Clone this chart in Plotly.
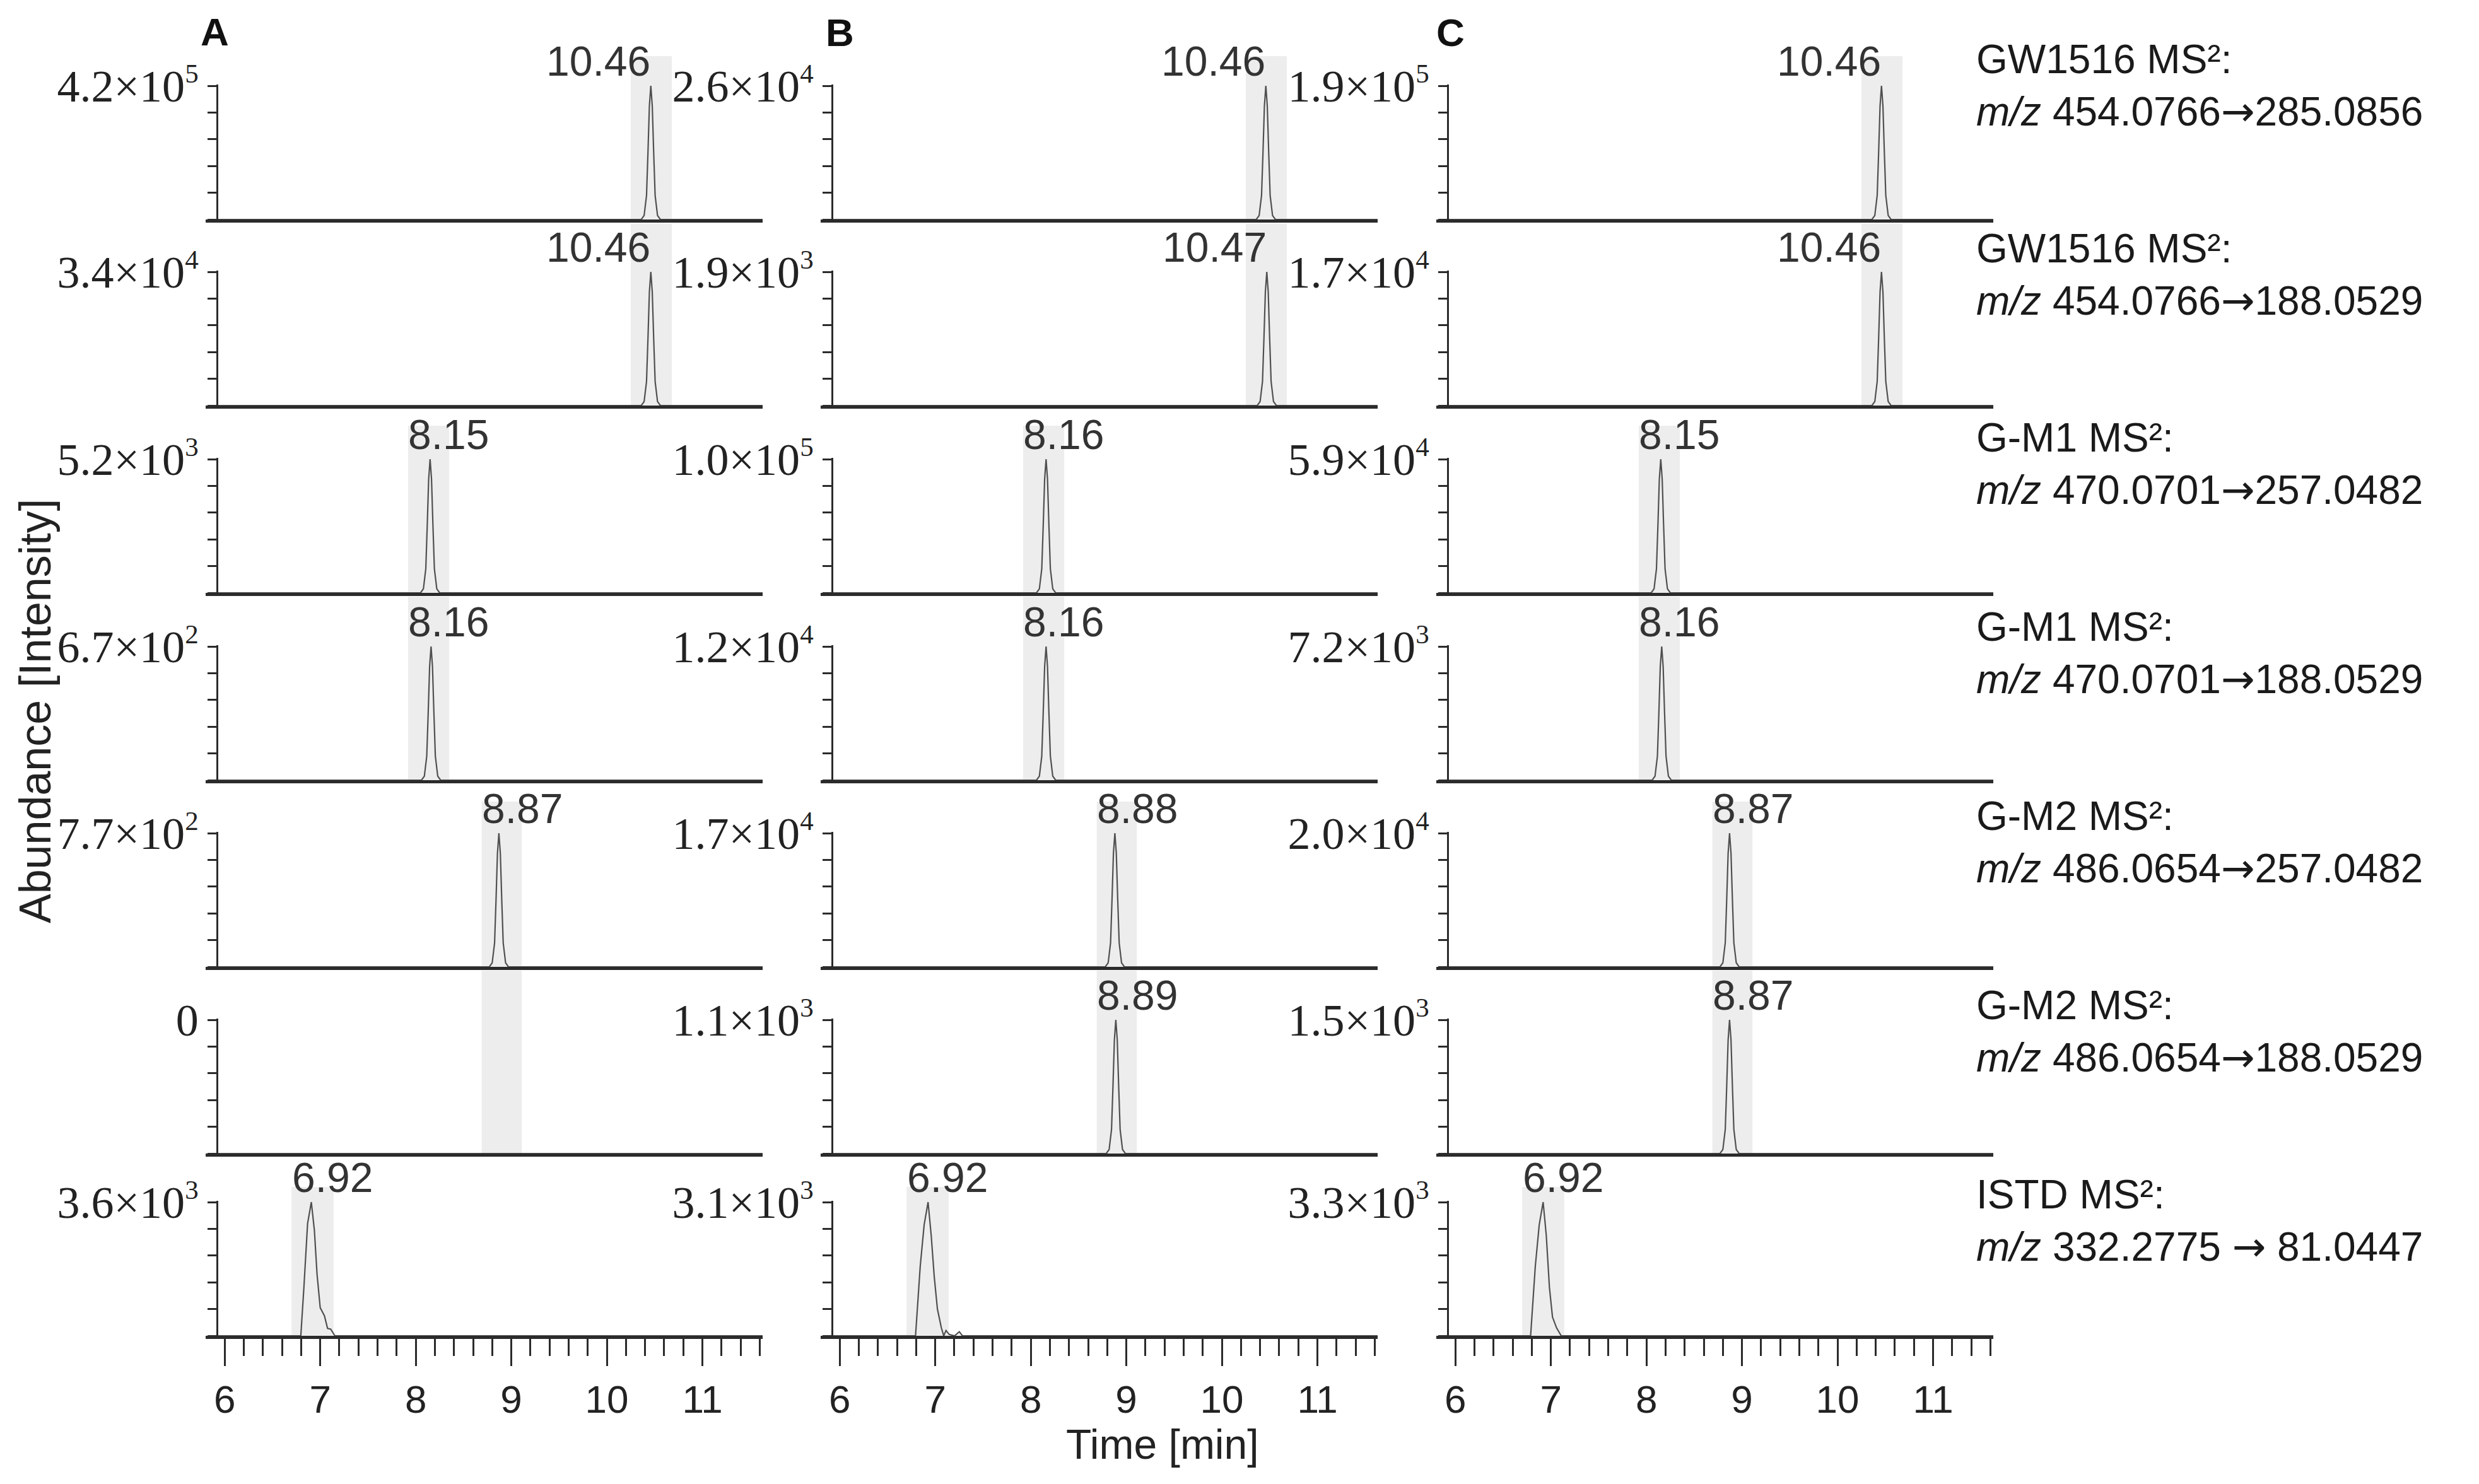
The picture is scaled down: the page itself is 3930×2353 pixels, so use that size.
import plotly.graph_objects as go

W, H = 3930, 2353

# ---------------- data ----------------
col_letters = ["A", "B", "C"]

row_names = ["GW1516 MS²:", "GW1516 MS²:", "G-M1 MS²:", "G-M1 MS²:",
             "G-M2 MS²:", "G-M2 MS²:", "ISTD MS²:"]
row_precursor = ["454.0766", "454.0766", "470.0701", "470.0701",
                 "486.0654", "486.0654", "332.2775 "]
row_product = ["285.0856", "188.0529", "257.0482", "188.0529",
               "257.0482", "188.0529", " 81.0447"]

# retention time labels (None = no peak)
peak_rt = [
    [10.46, 10.46, 10.46],
    [10.46, 10.47, 10.46],
    [8.15, 8.16, 8.15],
    [8.16, 8.16, 8.16],
    [8.87, 8.88, 8.87],
    [None, 8.89, 8.87],
    [6.92, 6.92, 6.92],
]

# full-scale intensity = mantissa x 10^exp
ymax_mant = [
    [4.2, 2.6, 1.9],
    [3.4, 1.9, 1.7],
    [5.2, 1.0, 5.9],
    [6.7, 1.2, 7.2],
    [7.7, 1.7, 2.0],
    [0.0, 1.1, 1.5],
    [3.6, 3.1, 3.3],
]
ymax_exp = [
    [5, 4, 5],
    [4, 3, 4],
    [3, 5, 4],
    [2, 4, 3],
    [2, 4, 4],
    [0, 3, 3],
    [3, 3, 3],
]

# grey integration windows (min)
band_start = [10.25, 10.25, 7.92, 7.92, 8.69, 8.69, 6.70]
band_end = [10.68, 10.68, 8.35, 8.35, 9.11, 9.11, 7.14]

# sharp MS2 peak profile (offset from apex in min, relative intensity)
sharp_dt = [-0.10, -0.07, -0.045, -0.03, -0.015, 0.0, 0.015, 0.03, 0.045, 0.07, 0.10]
sharp_rel = [0.0, 0.03, 0.18, 0.50, 0.85, 1.0, 0.85, 0.50, 0.18, 0.03, 0.0]

# ISTD traces (min, relative intensity), one per column
istd_t_A = [6.797, 6.830, 6.868, 6.907, 6.939, 6.967, 7.000, 7.044, 7.077, 7.110, 7.154]
istd_rel_A = [0.0, 0.37, 0.84, 1.0, 0.79, 0.46, 0.21, 0.15, 0.055, 0.05, 0.0]
istd_t_B = [6.794, 6.843, 6.884, 6.925, 6.958, 6.990, 7.023, 7.064, 7.089, 7.113, 7.146, 7.203, 7.252, 7.285]
istd_rel_B = [0.0, 0.52, 0.83, 1.0, 0.75, 0.44, 0.20, 0.06, 0.0, 0.04, 0.01, 0.0, 0.03, 0.0]
istd_t_C = [6.788, 6.837, 6.878, 6.919, 6.952, 6.985, 7.017, 7.059, 7.108]
istd_rel_C = [0.0, 0.52, 0.83, 1.0, 0.75, 0.36, 0.14, 0.06, 0.0]

x_ticks = [6, 7, 8, 9, 10, 11]

# ---------------- layout geometry (pixels) ----------------
X_LO, X_HI = 5.801, 11.63
Y_AXIS_T = 5.92
col_left = [326, 1301, 2277]
col_w = 883
baseline = [348, 643, 940, 1237, 1533, 1829, 2118]
tick_h = 212
band_h = [259, 288, 265, 291, 262, 290, 236]

istd_t = [istd_t_A, istd_t_B, istd_t_C]
istd_rel = [istd_rel_A, istd_rel_B, istd_rel_C]


def py(p):
    return 1 - p / H


def px(p):
    return p / W


INK = "#2b2b2b"
SERIF = "Liberation Serif, Times New Roman, serif"
SANS = "Liberation Sans, Arial, sans-serif"
YT_SIZE = 72
LAB_SIZE = 64
RT_SIZE = 66

fig = go.Figure()
shapes, annotations, lay = [], [], {}
n = 0
for r in range(7):
    for c in range(3):
        n += 1
        sfx = "" if n == 1 else str(n)
        xr, yr = "x" + sfx, "y" + sfx
        m = ymax_mant[r][c] * 10 ** ymax_exp[r][c]
        top = m if m > 0 else 1.0
        rt = peak_rt[r][c]
        if r < 6:
            if rt is None:
                t, y = [Y_AXIS_T, X_HI], [0, 0]
            else:
                t = [Y_AXIS_T] + [rt + d for d in sharp_dt] + [X_HI]
                y = [0] + [v * m for v in sharp_rel] + [0]
        else:
            t = [Y_AXIS_T] + istd_t[c] + [X_HI]
            y = [0] + [v * m for v in istd_rel[c]] + [0]
        fig.add_trace(go.Scatter(x=t, y=y, xaxis=xr, yaxis=yr, mode="lines",
                                 line=dict(color="#505050", width=2.2),
                                 hoverinfo="skip", showlegend=False))

        x0 = px(col_left[c])
        x1 = px(col_left[c] + col_w)
        yb = py(baseline[r])
        yt = py(baseline[r] - tick_h * 1.01)
        ypos = px(col_left[c] + (Y_AXIS_T - X_LO) * col_w / (X_HI - X_LO))

        if m == 0:
            label = "0"
        else:
            label = (f"{ymax_mant[r][c]:.1f}×10<sup><span style='font-size:{int(YT_SIZE*0.6)}px'>"
                     f"{ymax_exp[r][c]}</span></sup>")
        lay["yaxis" + sfx] = dict(
            domain=[yb, yt], range=[0, top * 1.01], anchor="free", position=ypos,
            automargin=False,
            showline=True, linecolor=INK, linewidth=3, ticks="outside", ticklen=14,
            tickwidth=3, tickcolor=INK, tickmode="array",
            tickvals=[0, 0.2 * top, 0.4 * top, 0.6 * top, 0.8 * top, top],
            ticktext=["", "", "", "", "", label],
            tickfont=dict(family=SERIF, size=YT_SIZE, color="#222"),
            showgrid=False, zeroline=False, fixedrange=True)
        xa = dict(domain=[x0, x1], range=[X_LO, X_HI], anchor=yr, automargin=False,
                  showline=True, linecolor=INK, linewidth=5,
                  showgrid=False, zeroline=False, fixedrange=True)
        if r == 6:
            xa.update(ticks="outside", ticklen=43, tickwidth=2.5, tickcolor=INK,
                      tickmode="array", tickvals=x_ticks,
                      ticktext=[str(v) for v in x_ticks],
                      tickfont=dict(family=SANS, size=62, color="#222"),
                      minor=dict(ticks="outside", ticklen=27, tickwidth=2.5,
                                 tickcolor=INK, dtick=0.2, tick0=6))
        else:
            xa.update(ticks="", showticklabels=False)
        lay["xaxis" + sfx] = xa

        shapes.append(dict(type="rect", xref=xr, yref="paper",
                           x0=band_start[r], x1=band_end[r],
                           y0=yb, y1=py(baseline[r] - band_h[r]),
                           fillcolor="#ededed", line=dict(width=0), layer="below"))

        if rt is not None:
            if r < 2:
                ax, anc = rt + 0.01, "right"
            else:
                ax, anc = band_start[r] - 0.01, "left"
            annotations.append(dict(xref=xr, yref="paper", x=ax, y=py(baseline[r] - tick_h),
                                    xanchor=anc, yanchor="bottom", text=f"{rt:.2f}",
                                    showarrow=False,
                                    font=dict(family=SANS, size=RT_SIZE, color="#333")))

# right-hand transition labels
ARROW = "<span style='font-family:DejaVu Sans'>→</span>"
for r in range(7):
    L1 = 117 + 300 * r
    annotations.append(dict(xref="paper", yref="paper", x=px(3131), y=py(L1 + 0.3 * LAB_SIZE),
                            xanchor="left", yanchor="middle", align="left", showarrow=False,
                            text=f"{row_names[r]}<br><i>m/z</i> {row_precursor[r]}{ARROW}{row_product[r]}",
                            font=dict(family=SANS, size=LAB_SIZE, color="#1a1a1a")))

# column letters
for c, (cx, cy) in enumerate([(340, 50), (1331, 52), (2299, 52)]):
    annotations.append(dict(xref="paper", yref="paper", x=px(cx), y=py(cy),
                            xanchor="center", yanchor="middle", showarrow=False,
                            text=f"<b>{col_letters[c]}</b>",
                            font=dict(family=SANS, size=62, color="#111")))

# axis titles
annotations.append(dict(xref="paper", yref="paper", x=px(56), y=py(1128), textangle=-90,
                        xanchor="center", yanchor="middle", showarrow=False,
                        text="Abundance [Intensity]",
                        font=dict(family=SANS, size=70, color="#222")))
annotations.append(dict(xref="paper", yref="paper", x=px(1843), y=py(2290),
                        xanchor="center", yanchor="middle", showarrow=False,
                        text="Time [min]", font=dict(family=SANS, size=66, color="#222")))

fig.update_layout(width=W, height=H, margin=dict(l=0, r=0, t=0, b=0, autoexpand=False),
                  paper_bgcolor="white", plot_bgcolor="white",
                  shapes=shapes, annotations=annotations, showlegend=False, **lay)

fig.write_html("out.html", config={"displayModeBar": False},
               post_script="document.body.style.margin='0';document.body.style.overflow='hidden';")
